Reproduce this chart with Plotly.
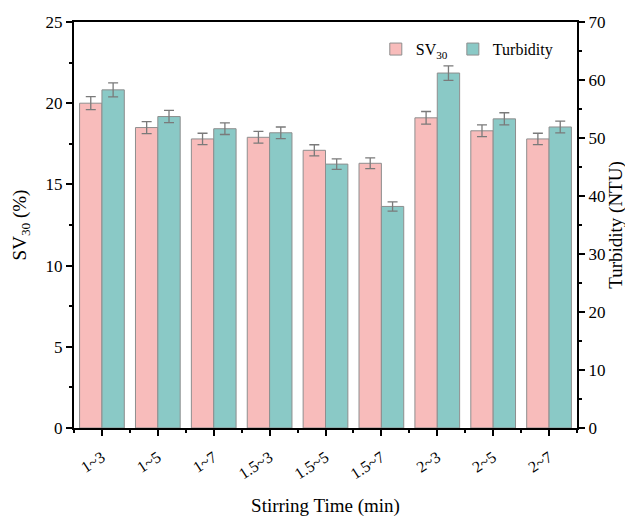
import plotly.graph_objects as go

categories = ["1~3", "1~5", "1~7", "1.5~3", "1.5~5", "1.5~7", "2~3", "2~5", "2~7"]
sv30 = [20.0, 18.5, 17.8, 17.9, 17.1, 16.3, 19.1, 18.3, 17.8]
sv30_err = [0.4, 0.37, 0.35, 0.36, 0.34, 0.33, 0.39, 0.36, 0.35]
turbidity = [58.3, 53.7, 51.6, 50.9, 45.5, 38.2, 61.2, 53.3, 51.9]
turbidity_err = [1.2, 1.05, 1.0, 1.0, 0.9, 0.8, 1.25, 1.05, 1.0]

xpos = list(range(len(categories)))
FONT = "Liberation Serif"

fig = go.Figure()
fig.add_trace(go.Bar(
    x=xpos, y=sv30, name="SV<sub>30</sub>", width=0.4, offset=-0.4,
    marker=dict(color="#F8BCBB", line=dict(color="#8E8E8E", width=1)),
    error_y=dict(type="data", array=sv30_err, color="#7A7A7A", thickness=1.3, width=5),
    yaxis="y",
))
fig.add_trace(go.Bar(
    x=xpos, y=turbidity, name="Turbidity", width=0.4, offset=0,
    marker=dict(color="#8AC9C6", line=dict(color="#8E8E8E", width=1)),
    error_y=dict(type="data", array=turbidity_err, color="#7A7A7A", thickness=1.3, width=5),
    yaxis="y2",
))

fig.update_layout(
    width=625, height=509,
    margin=dict(l=66, r=56, t=14, b=89),
    plot_bgcolor="white", paper_bgcolor="white",
    font=dict(family=FONT, size=15, color="black"),
    showlegend=True,
    legend=dict(orientation="h", x=0.6, y=0.975, xanchor="left", yanchor="top",
                bgcolor="rgba(0,0,0,0)", font=dict(size=16), itemwidth=30,
                traceorder="normal"),
    xaxis=dict(
        range=[-0.5, 8.5], tickmode="array", tickvals=xpos, ticktext=categories,
        tickangle=-33, showgrid=False, zeroline=False, automargin=False,
        showline=True, linecolor="black", linewidth=2, mirror=True,
        ticks="outside", ticklen=6, tickwidth=1.5, tickcolor="black",
        ticklabelstandoff=6,
        minor=dict(tickvals=[i - 0.5 for i in range(len(categories) + 1)],
                   ticks="outside", ticklen=3, tickwidth=1.5, tickcolor="black"),
        title=dict(text="Stirring Time (min)", font=dict(size=19), standoff=24),
        tickfont=dict(size=16),
    ),
    yaxis=dict(
        range=[0, 25], tickmode="linear", tick0=0, dtick=5,
        showgrid=False, zeroline=False, automargin=False,
        showline=True, linecolor="black", linewidth=2, mirror=False,
        ticks="outside", ticklen=6, tickwidth=1.5, tickcolor="black",
        minor=dict(dtick=2.5, ticks="outside", ticklen=3, tickwidth=1.5, tickcolor="black"),
        title=dict(text="SV<sub>30</sub> (%)", font=dict(size=19), standoff=14),
        tickfont=dict(size=17),
    ),
    yaxis2=dict(
        range=[0, 70], tickmode="linear", tick0=0, dtick=10,
        overlaying="y", side="right", automargin=False,
        showgrid=False, zeroline=False,
        showline=True, linecolor="black", linewidth=2,
        ticks="outside", ticklen=6, tickwidth=1.5, tickcolor="black",
        minor=dict(dtick=5, ticks="outside", ticklen=3, tickwidth=1.5, tickcolor="black"),
        title=dict(text="Turbidity (NTU)", font=dict(size=19), standoff=4),
        tickfont=dict(size=17),
    ),
)

fig.write_html("out.html")
